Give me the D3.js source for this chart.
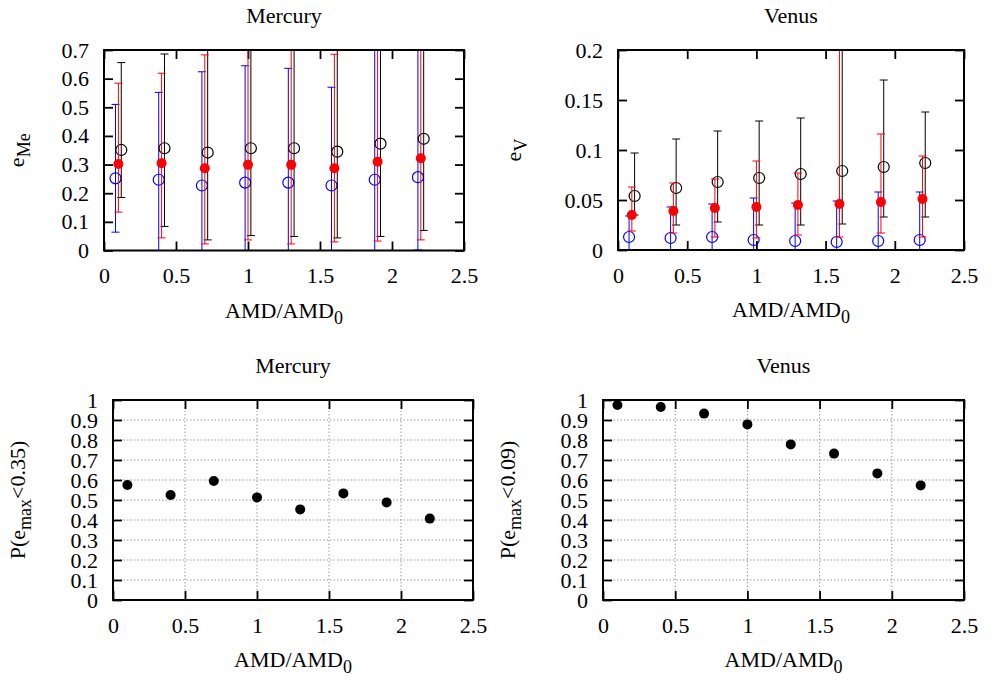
<!DOCTYPE html>
<html>
<head>
<meta charset="utf-8">
<script src="https://cdn.jsdelivr.net/npm/d3@7"></script>
<style>
  body { margin: 0; background: #fff; }
  svg text { font-family: "Liberation Serif", "Times New Roman", serif !important; font-size: 22px; fill: #000; }
</style>
</head>
<body>
<script>
// x positions (AMD/AMD0); the three series are drawn slightly apart
var amd      = [0.1, 0.4, 0.7, 1.0, 1.3, 1.6, 1.9, 2.2];
var amdBlue  = [0.08, 0.38, 0.68, 0.98, 1.28, 1.58, 1.88, 2.18];
var amdBlack = [0.12, 0.42, 0.72, 1.02, 1.32, 1.62, 1.92, 2.22];

// Mercury eccentricity (mean, low, high)
var meRed     = [0.302, 0.305, 0.287, 0.299, 0.299, 0.287, 0.310, 0.322];
var meRedLo   = [0.134, 0.044, 0.023, 0.037, 0.023, 0.030, 0.033, 0.037];
var meRedHi   = [0.584, 0.619, 0.683, 0.75, 0.75, 0.685, 0.75, 0.75];
var meBlue    = [0.252, 0.247, 0.227, 0.237, 0.237, 0.227, 0.247, 0.256];
var meBlueLo  = [0.064, -0.05, -0.05, -0.05, -0.05, -0.05, -0.05, 0.002];
var meBlueHi  = [0.510, 0.552, 0.624, 0.645, 0.636, 0.570, 0.75, 0.75];
var meBlack   = [0.351, 0.357, 0.342, 0.357, 0.357, 0.345, 0.373, 0.390];
var meBlackLo = [0.185, 0.084, 0.037, 0.052, 0.049, 0.044, 0.049, 0.070];
var meBlackHi = [0.656, 0.686, 0.75, 0.75, 0.75, 0.75, 0.75, 0.75];

// Venus eccentricity
var vRed     = [0.035, 0.039, 0.042, 0.043, 0.045, 0.046, 0.048, 0.051];
var vRedLo   = [0.019, 0.017, 0.013, 0.012, 0.015, 0.013, 0.017, 0.013];
var vRedHi   = [0.063, 0.067, 0.071, 0.089, 0.077, 0.22, 0.116, 0.094];
var vBlue    = [0.013, 0.012, 0.013, 0.010, 0.009, 0.008, 0.009, 0.010];
var vBlueLo  = [-0.01, -0.01, -0.01, -0.01, -0.01, -0.01, -0.01, -0.01];
var vBlueHi  = [0.034, 0.043, 0.046, 0.052, 0.047, 0.049, 0.058, 0.058];
var vBlack   = [0.054, 0.062, 0.068, 0.072, 0.076, 0.079, 0.083, 0.087];
var vBlackLo = [0.035, 0.025, 0.028, 0.025, 0.025, 0.026, 0.033, 0.033];
var vBlackHi = [0.097, 0.111, 0.119, 0.129, 0.132, 0.22, 0.170, 0.138];

// probabilities
var pMercury = [0.575, 0.525, 0.595, 0.513, 0.453, 0.533, 0.488, 0.407];
var pVenus   = [0.975, 0.965, 0.932, 0.878, 0.778, 0.732, 0.633, 0.573];

var xTicks = [0, 0.5, 1, 1.5, 2, 2.5];
var meTicks = [0, 0.1, 0.2, 0.3, 0.4, 0.5, 0.6, 0.7];
var vTicks = [0, 0.05, 0.1, 0.15, 0.2];
var pTicks = [0, 0.1, 0.2, 0.3, 0.4, 0.5, 0.6, 0.7, 0.8, 0.9, 1];

var svg = d3.select("body").append("svg")
  .attr("width", 1000)
  .attr("height", 700);

var tickLen = 9;
var serif = "Liberation Serif";

function setPanel(p) {
  var g = svg.append("g").attr("transform", "translate(" + p.left + "," + p.top + ")");
  var x = d3.scaleLinear().domain([0, 2.5]).range([0, p.w]);
  var y = d3.scaleLinear().domain([0, p.ymax]).range([p.h, 0]);

  g.append("clipPath").attr("id", p.id)
    .append("rect").attr("width", p.w).attr("height", p.h);

  // grid (bottom panels only)
  if (p.grid) {
    var grid = g.append("g").attr("class", "grid")
      .attr("stroke", "#999").attr("stroke-width", 1).attr("stroke-dasharray", "1.5,2");
    grid.selectAll(".gy").data(p.yticks.slice(1, -1)).enter().append("line")
      .attr("x1", 0).attr("x2", p.w)
      .attr("y1", function (d) { return y(d); }).attr("y2", function (d) { return y(d); });
    grid.selectAll(".gx").data(xTicks.slice(1, -1)).enter().append("line")
      .attr("y1", 0).attr("y2", p.h)
      .attr("x1", function (d) { return x(d); }).attr("x2", function (d) { return x(d); });
  }

  // axes, ticks pointing inside
  var fmt = d3.format("~g");
  g.append("g").attr("transform", "translate(0," + p.h + ")")
    .call(d3.axisBottom(x).tickValues(xTicks).tickSize(-tickLen).tickPadding(17).tickFormat(fmt));
  g.append("g")
    .call(d3.axisTop(x).tickValues(xTicks).tickSize(-tickLen).tickFormat(""));
  g.append("g")
    .call(d3.axisLeft(y).tickValues(p.yticks).tickSize(-tickLen).tickPadding(15).tickFormat(fmt));
  g.append("g").attr("transform", "translate(" + p.w + ",0)")
    .call(d3.axisRight(y).tickValues(p.yticks).tickSize(-tickLen).tickFormat(""));
  g.selectAll(".domain").remove();
  g.selectAll(".tick line").attr("stroke", "#000").attr("stroke-width", 1.8);
  g.selectAll("g").attr("font-family", serif).attr("font-size", 22);
  g.selectAll(".tick text").attr("font-family", serif).attr("font-size", 22).attr("fill", "#000");

  var plot = g.append("g").attr("clip-path", "url(#" + p.id + ")");
  p.draw(plot, x, y);

  g.append("rect").attr("width", p.w).attr("height", p.h)
    .attr("fill", "none").attr("stroke", "#000").attr("stroke-width", 2);

  // title
  g.append("text").attr("x", p.w / 2).attr("y", -27.5)
    .attr("text-anchor", "middle").text(p.title);

  // x label
  var xl = g.append("text").attr("x", p.w / 2).attr("y", p.h + 67)
    .attr("text-anchor", "middle");
  xl.append("tspan").text("AMD/AMD");
  xl.append("tspan").attr("dy", 6).style("font-size", "18px").text("0");

  // y label
  var yl = g.append("text")
    .attr("transform", "translate(" + p.ylx + "," + (p.h / 2) + ") rotate(-90)")
    .attr("text-anchor", "middle");
  p.ylabel.forEach(function (part) {
    var t = yl.append("tspan").text(part[0]);
    if (part[1] === "sub") t.attr("dy", 6).style("font-size", "18px");
    if (part[1] === "up") t.attr("dy", -6);
  });
}

function errorSeries(plot, x, y, xs, mid, lo, hi, color, kind) {
  var cap = 4;
  var eb = plot.append("g").attr("stroke", color).attr("stroke-width", 1).attr("fill", "none");
  xs.forEach(function (xv, i) {
    eb.append("line").attr("x1", x(xv)).attr("x2", x(xv)).attr("y1", y(lo[i])).attr("y2", y(hi[i]));
    eb.append("line").attr("x1", x(xv) - cap).attr("x2", x(xv) + cap).attr("y1", y(lo[i])).attr("y2", y(lo[i]));
    eb.append("line").attr("x1", x(xv) - cap).attr("x2", x(xv) + cap).attr("y1", y(hi[i])).attr("y2", y(hi[i]));
  });
  plot.append("g").selectAll("circle").data(mid).enter().append("circle")
    .attr("cx", function (d, i) { return x(xs[i]); })
    .attr("cy", function (d) { return y(d); })
    .attr("r", kind === "open" ? 5.5 : 5)
    .attr("fill", kind === "open" ? "none" : color)
    .attr("stroke", color)
    .attr("stroke-width", kind === "open" ? 1.2 : 0);
}

function dots(plot, x, y, vals) {
  plot.selectAll(".dot").data(vals).enter().append("circle")
    .attr("class", "dot")
    .attr("cx", function (d, i) { return x(amd[i]); })
    .attr("cy", function (d) { return y(d); })
    .attr("r", 5).attr("fill", "#000");
}

setPanel({
  id: "c1", left: 104, top: 50, w: 360, h: 200.5, ymax: 0.7, yticks: meTicks,
  title: "Mercury", ylx: -80, ylabel: [["e"], ["Me", "sub"]],
  draw: function (plot, x, y) {
    errorSeries(plot, x, y, amdBlue, meBlue, meBlueLo, meBlueHi, "#0000ff", "open");
    errorSeries(plot, x, y, amdBlack, meBlack, meBlackLo, meBlackHi, "#000000", "open");
    errorSeries(plot, x, y, amd, meRed, meRedLo, meRedHi, "#ff0000", "filled");
  }
});

setPanel({
  id: "c2", left: 618, top: 50, w: 346, h: 200, ymax: 0.2, yticks: vTicks,
  title: "Venus", ylx: -97, ylabel: [["e"], ["V", "sub"]],
  draw: function (plot, x, y) {
    errorSeries(plot, x, y, amdBlue, vBlue, vBlueLo, vBlueHi, "#0000ff", "open");
    errorSeries(plot, x, y, amdBlack, vBlack, vBlackLo, vBlackHi, "#000000", "open");
    errorSeries(plot, x, y, amd, vRed, vRedLo, vRedHi, "#ff0000", "filled");
  }
});

setPanel({
  id: "c3", left: 113, top: 400, w: 360, h: 200, ymax: 1, yticks: pTicks, grid: true,
  title: "Mercury", ylx: -88, ylabel: [["P(e"], ["max", "sub"], ["<0.35)", "up"]],
  draw: function (plot, x, y) { dots(plot, x, y, pMercury); }
});

setPanel({
  id: "c4", left: 603, top: 400, w: 361, h: 200, ymax: 1, yticks: pTicks, grid: true,
  title: "Venus", ylx: -88, ylabel: [["P(e"], ["max", "sub"], ["<0.09)", "up"]],
  draw: function (plot, x, y) { dots(plot, x, y, pVenus); }
});
</script>
</body>
</html>
